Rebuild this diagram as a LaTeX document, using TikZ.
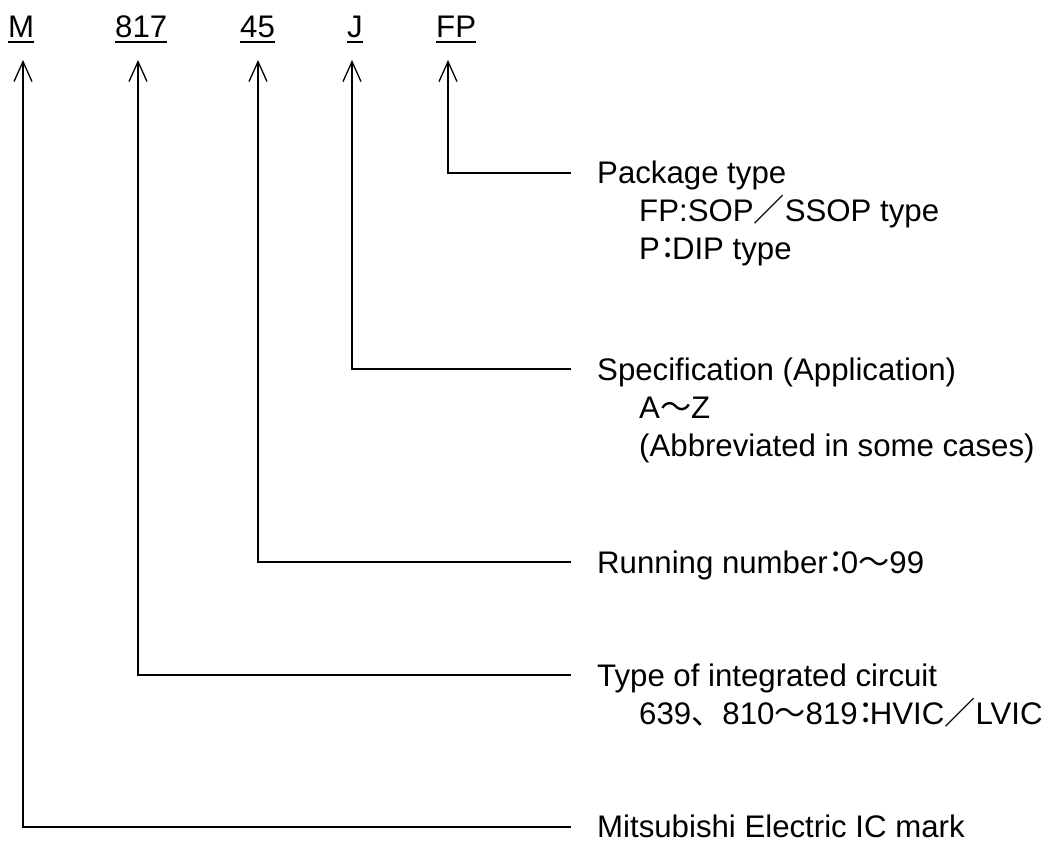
\documentclass[tikz,border=0pt]{standalone}
\usepackage{fontspec}
\setmainfont{Liberation Sans}
\newfontfamily\cjkfont{Noto Sans CJK JP}
\usetikzlibrary{arrows.meta}
\newcommand{\fwc}[1]{{\cjkfont #1}}
\newcommand{\fcol}[1][12pt]{\makebox[#1][l]{\kern-7.2pt\cjkfont ：}}
\begin{document}
\begin{tikzpicture}[x=1pt,y=-1pt,
  txt/.style={anchor=base west, inner sep=0pt, font=\fontsize{31.2}{38}\selectfont},
  uline/.style={line width=1.7pt},
  vline/.style={line width=1.3pt, -{Straight Barb[length=20pt,width=18pt,line width=1.3pt]}},
  hline/.style={line width=2pt, shorten <=-0.65pt}]
\useasboundingbox (0,0) rectangle (1047,842);

% top labels
\node[txt] (lM)   at (8,38)   {M};
\node[txt] (l817) at (115,38) {817};
\node[txt] (l45)  at (240,38) {45};
\node[txt] (lJ)   at (347,38) {J};
\node[txt] (lFP)  at (436,38) {FP};
\foreach \n in {lM,l817,l45,lJ,lFP}
  \draw[uline] ([yshift=-4pt]\n.base west) -- ([yshift=-4pt]\n.base east);

% descriptions
\node[txt] (pk1) at (597,184) {Package type};
\node[txt] (pk2) at (639,222) {FP:SOP\fwc{／}SSOP type};
\node[txt] (pk3) at (639,260) {P\fcol DIP type};
\node[txt] (sp1) at (597,380) {Specification (Application)};
\node[txt] (sp2) at (639,418) {A\fwc{～}Z};
\node[txt] (sp3) at (639,456) {(Abbreviated in some cases)};
\node[txt] (rn1) at (597,573) {Running number\fcol[13pt]0\fwc{～}99};
\node[txt] (ty1) at (597,686) {Type of integrated circuit};
\node[txt] (ty2) at (639,724) {639\fwc{、}810\fwc{～}819\fcol HVIC\fwc{／}LVIC};
\node[txt] (mk1) at (597,837) {Mitsubishi Electric IC mark};

% arrow tips and corners
\coordinate (aM)   at (23,60);   \coordinate (cM)   at (23,827);
\coordinate (a817) at (138,60);  \coordinate (c817) at (138,675);
\coordinate (a45)  at (258,60);  \coordinate (c45)  at (258,561.5);
\coordinate (aJ)   at (352,60);  \coordinate (cJ)   at (352,369);
\coordinate (aFP)  at (448,60);  \coordinate (cFP)  at (448,173);

\draw[vline] (cFP) -- (aFP);
\draw[vline] (cJ) -- (aJ);
\draw[vline] (c45) -- (a45);
\draw[vline] (c817) -- (a817);
\draw[vline] (cM) -- (aM);

\draw[hline, shorten >=26pt] (cFP) -- (cFP -| pk1.west);
\draw[hline, shorten >=26pt] (cJ) -- (cJ -| sp1.west);
\draw[hline, shorten >=26pt] (c45) -- (c45 -| rn1.west);
\draw[hline, shorten >=26pt] (c817) -- (c817 -| ty1.west);
\draw[hline, shorten >=26pt] (cM) -- (cM -| mk1.west);
\end{tikzpicture}
\end{document}
